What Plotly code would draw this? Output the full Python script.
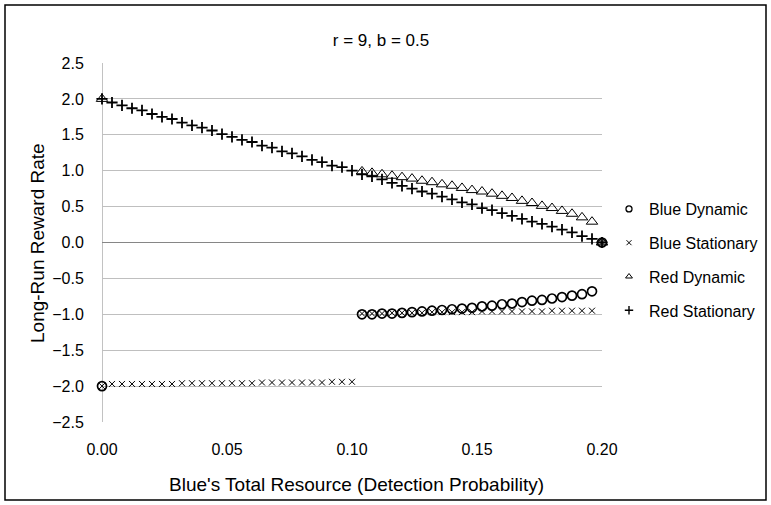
import plotly.graph_objects as go

x_vals = [0.000, 0.004, 0.008, 0.012, 0.016, 0.020, 0.024, 0.028, 0.032, 0.036,
          0.040, 0.044, 0.048, 0.052, 0.056, 0.060, 0.064, 0.068, 0.072, 0.076,
          0.080, 0.084, 0.088, 0.092, 0.096, 0.100, 0.104, 0.108, 0.112, 0.116,
          0.120, 0.124, 0.128, 0.132, 0.136, 0.140, 0.144, 0.148, 0.152, 0.156,
          0.160, 0.164, 0.168, 0.172, 0.176, 0.180, 0.184, 0.188, 0.192, 0.196,
          0.200]

N = None
blue_dynamic = [-2.00] + [N] * 25 + [
    -1.00, -1.00, -0.99, -0.99, -0.98, -0.97, -0.96, -0.95, -0.94, -0.93,
    -0.92, -0.91, -0.89, -0.88, -0.86, -0.85, -0.83, -0.81, -0.80, -0.78,
    -0.76, -0.74, -0.72, -0.68] + [0.00]

blue_stationary = [-2.00,
    -1.97, -1.97, -1.97, -1.97, -1.97, -1.97, -1.97, -1.96, -1.96, -1.96,
    -1.96, -1.96, -1.96, -1.96, -1.96, -1.95, -1.95, -1.95, -1.95, -1.95,
    -1.95, -1.95, -1.94, -1.94, -1.94,
    -0.99, -0.99, -0.99, -0.98, -0.98, -0.98, -0.98, -0.97, -0.97, -0.97,
    -0.97, -0.97, -0.96, -0.96, -0.96, -0.96, -0.96, -0.96, -0.96, -0.95,
    -0.95, -0.95, -0.95, -0.95,
    0.00]

red_dynamic = [2.00] + [N] * 25 + [
    0.99, 0.97, 0.95, 0.93, 0.91, 0.89, 0.86, 0.84, 0.81, 0.79,
    0.76, 0.73, 0.71, 0.68, 0.65, 0.62, 0.58, 0.55, 0.51, 0.48,
    0.44, 0.40, 0.35, 0.29] + [0.00]

red_stationary = [2.00,
    1.95, 1.91, 1.87, 1.84, 1.79, 1.75, 1.72, 1.67, 1.63, 1.60,
    1.56, 1.51, 1.47, 1.43, 1.40, 1.35, 1.32, 1.27, 1.24, 1.20,
    1.15, 1.12, 1.07, 1.05, 1.00,
    0.95, 0.92, 0.88, 0.83, 0.79, 0.75, 0.71, 0.68, 0.64, 0.60,
    0.56, 0.53, 0.48, 0.45, 0.41, 0.37, 0.33, 0.29, 0.26, 0.22,
    0.18, 0.14, 0.09, 0.05,
    0.00]

series_names = ["Blue Dynamic", "Blue Stationary", "Red Dynamic", "Red Stationary"]
x_ticks = [0, 0.05, 0.10, 0.15, 0.20]
x_tick_text = ["0.00", "0.05", "0.10", "0.15", "0.20"]
title_text = "r = 9, b = 0.5"
x_title = "Blue's Total Resource (Detection Probability)"
y_title = "Long-Run Reward Rate"

FONT = "Liberation Sans, Arial, sans-serif"
W, H = 771, 505
L, R, T, B = 102, 169, 63, 83
PW, PH = W - L - R, H - T - B

def px_to_paper(px, py):
    return (px - L) / PW, (H - B - py) / PH

fig = go.Figure()
styles = [
    (blue_dynamic, dict(symbol="circle-open", size=9, color="black", line=dict(width=1.7, color="black")),
     dict(symbol="circle-open", size=6, color="black", line=dict(width=1.3, color="black"))),
    (blue_stationary, dict(symbol="x-thin-open", size=6, color="black", line=dict(width=1, color="#333333")),
     dict(symbol="x-thin-open", size=5, color="black", line=dict(width=1, color="#333333"))),
    (red_dynamic, dict(symbol="triangle-up-open", size=10, color="black", line=dict(width=1, color="black")),
     dict(symbol="triangle-up-open", size=6, color="black", line=dict(width=1, color="black"))),
    (red_stationary, dict(symbol="cross-thin-open", size=8, color="black", line=dict(width=1.8, color="black")),
     dict(symbol="cross-thin-open", size=6, color="black", line=dict(width=1.4, color="black"))),
]
for name, (ys, mk, lmk) in zip(series_names, styles):
    fig.add_trace(go.Scatter(x=x_vals, y=ys, mode="markers", name=name,
                             marker=mk, cliponaxis=False, showlegend=False))
for name, (ys, mk, lmk) in zip(series_names, styles):
    fig.add_trace(go.Scatter(x=[None], y=[None], mode="markers", name=name,
                             marker=lmk, showlegend=True, legendgroup=name))

x0, y0 = px_to_paper(5, 5)
x1, y1 = px_to_paper(766, 500)
fig.add_shape(type="rect", xref="paper", yref="paper", x0=x0, y0=y1, x1=x1, y1=y0,
              line=dict(color="black", width=1.5), fillcolor="rgba(0,0,0,0)", layer="below")
fig.add_shape(type="line", xref="x", yref="paper", x0=0, x1=0, y0=0, y1=1,
              line=dict(color="#868686", width=1), layer="below")

ax, ay = px_to_paper(37, 243)
fig.add_annotation(text=y_title, textangle=-90, xref="paper", yref="paper", x=ax, y=ay,
                   showarrow=False, xanchor="center", yanchor="middle",
                   font=dict(family=FONT, size=19, color="black"))
bx, by = px_to_paper(356, 484)
fig.add_annotation(text=x_title, xref="paper", yref="paper", x=bx, y=by,
                   showarrow=False, xanchor="center", yanchor="middle",
                   font=dict(family=FONT, size=19, color="black"))

lx, ly = px_to_paper(609, 192)
fig.update_layout(
    width=W, height=H,
    margin=dict(l=L, r=R, t=T, b=B, autoexpand=False),
    paper_bgcolor="white", plot_bgcolor="white",
    font=dict(family=FONT, size=15, color="black"),
    title=dict(text=title_text, x=381 / W, xref="container", xanchor="center",
               y=1 - 40 / H, yanchor="middle", yref="container",
               font=dict(family=FONT, size=17, color="black")),
    showlegend=True,
    legend=dict(x=lx, y=ly, xanchor="left", yanchor="top",
                font=dict(family=FONT, size=16, color="black"),
                tracegroupgap=10, bgcolor="rgba(0,0,0,0)", itemwidth=30),
    xaxis=dict(range=[0, 0.2], tickvals=x_ticks, ticktext=x_tick_text,
               showgrid=False, zeroline=False, showline=False,
               ticks="outside", ticklen=13, tickcolor="rgba(0,0,0,0)",
               tickfont=dict(family=FONT, size=16, color="black")),
    yaxis=dict(range=[-2.5, 2.5], dtick=0.5, tick0=-2.5, tickformat=".1f",
               showgrid=True, gridcolor="#BFBFBF", gridwidth=1,
               zeroline=True, zerolinecolor="#868686", zerolinewidth=1,
               showline=False,
               ticks="outside", ticklen=14, tickcolor="rgba(0,0,0,0)",
               tickfont=dict(family=FONT, size=16, color="black")),
)

fig.write_html("out.html")
